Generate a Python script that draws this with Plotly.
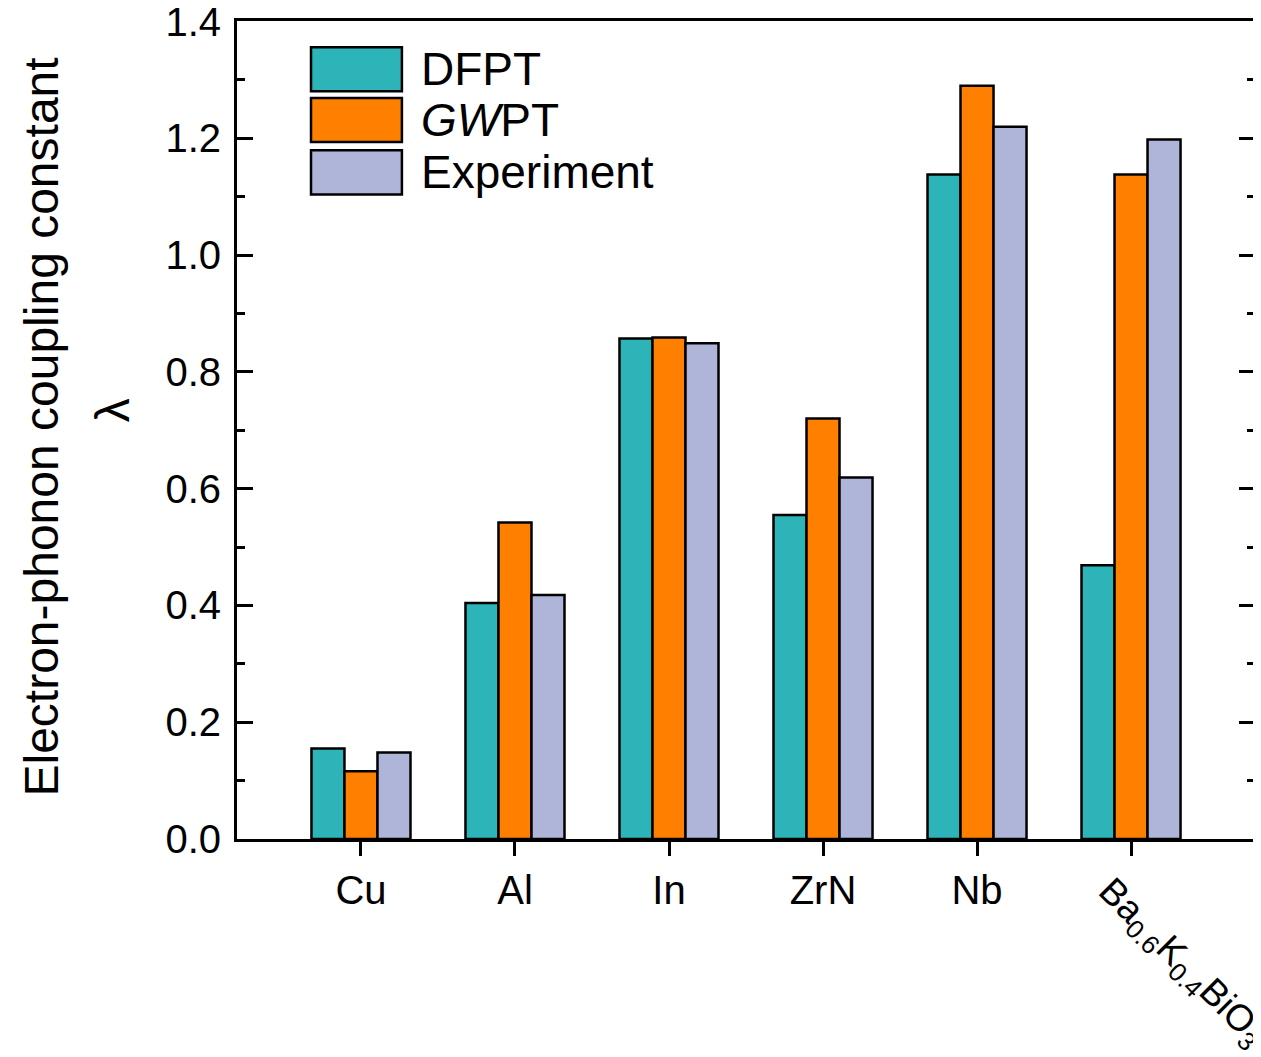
import plotly.graph_objects as go

categories = ["Cu", "Al", "In", "ZrN", "Nb", "Ba<sub>0.6</sub>K<sub>0.4</sub>BiO<sub>3</sub>"]
series_names = ["DFPT", "<i>GW</i>PT", "Experiment"]
dfpt = [0.155, 0.404, 0.857, 0.555, 1.138, 0.469]
gwpt = [0.116, 0.542, 0.859, 0.720, 1.290, 1.138]
experiment = [0.148, 0.418, 0.849, 0.619, 1.220, 1.198]
y_ticks = [0.0, 0.2, 0.4, 0.6, 0.8, 1.0, 1.2, 1.4]
y_title = "Electron-phonon coupling constant"
y_symbol = "λ"

colors = ["#2CB4B8", "#FF8000", "#AEB5D9"]
FONT = "Liberation Sans, Arial, sans-serif"

positions = list(range(len(categories)))
fig = go.Figure()
for name, vals, col in zip(series_names, [dfpt, gwpt, experiment], colors):
    fig.add_trace(go.Bar(x=positions, y=vals, name=name, marker_color=col,
                         marker_line_color="black", marker_line_width=2.5,
                         showlegend=False))

# horizontal tick labels for all but the rotated last one
ticktext = categories[:-1] + [""]

fig.update_layout(
    width=1261, height=1057,
    margin=dict(l=229, r=14, t=13, b=226),
    paper_bgcolor="white", plot_bgcolor="white",
    barmode="group", bargap=0.357, bargroupgap=0,
    font=dict(family=FONT, size=40, color="black"),
    xaxis=dict(range=[-0.805, 5.805], tickmode="array", tickvals=positions,
               ticktext=ticktext, ticks="outside", ticklen=14, tickwidth=3,
               tickcolor="black", showline=True, linewidth=3, linecolor="black",
               mirror=True, showgrid=False, zeroline=False, automargin=False,
               tickfont=dict(size=40)),
    yaxis=dict(range=[0, 1.401], tickmode="array", tickvals=y_ticks,
               ticktext=[f"{v:.1f}" for v in y_ticks],
               ticks="inside", ticklen=16, tickwidth=3, tickcolor="black",
               minor=dict(ticks="inside", ticklen=8, tickwidth=3, tickcolor="black",
                          dtick=0.1, showgrid=False),
               showline=True, linewidth=3, linecolor="black", mirror="ticks",
               showgrid=False, zeroline=False, tickfont=dict(size=40), automargin=False,
               ticklabelstandoff=5, ticklabeloverflow="allow"),
)

# y-axis title (two lines) as rotated annotations
fig.add_annotation(x=0, y=0.503, xref="paper", yref="paper", text=y_title,
                   textangle=-90, showarrow=False, xanchor="center", yanchor="middle",
                   xshift=-195, font=dict(size=48, family=FONT, color="black"))
fig.add_annotation(x=0, y=0.524, xref="paper", yref="paper", text=y_symbol,
                   textangle=-90, showarrow=False, xanchor="center", yanchor="middle",
                   xshift=-125, font=dict(size=48, family=FONT, color="black"))

# rotated last category label
fig.add_annotation(x=positions[-1], y=0, xref="x", yref="paper",
                   text=categories[-1], textangle=45, showarrow=False,
                   xanchor="center", yanchor="middle", xshift=50, yshift=-124,
                   font=dict(size=37, family=FONT, color="black"))

# legend drawn as swatches + labels
sw_x0, sw_x1 = 0.0727, 0.162
sw_rows = [(0.914, 0.968), (0.852, 0.906), (0.788, 0.842)]
for (y0, y1), name, col in zip(sw_rows, series_names, colors):
    fig.add_shape(type="rect", xref="paper", yref="paper", x0=sw_x0, x1=sw_x1,
                  y0=y0, y1=y1, fillcolor=col, line=dict(color="black", width=2.5))
    fig.add_annotation(x=0.1790, y=(y0 + y1) / 2, xref="paper", yref="paper",
                       text=name, showarrow=False, xanchor="left", yanchor="middle",
                       font=dict(size=46, family=FONT, color="black"))

fig.write_html("out.html")
